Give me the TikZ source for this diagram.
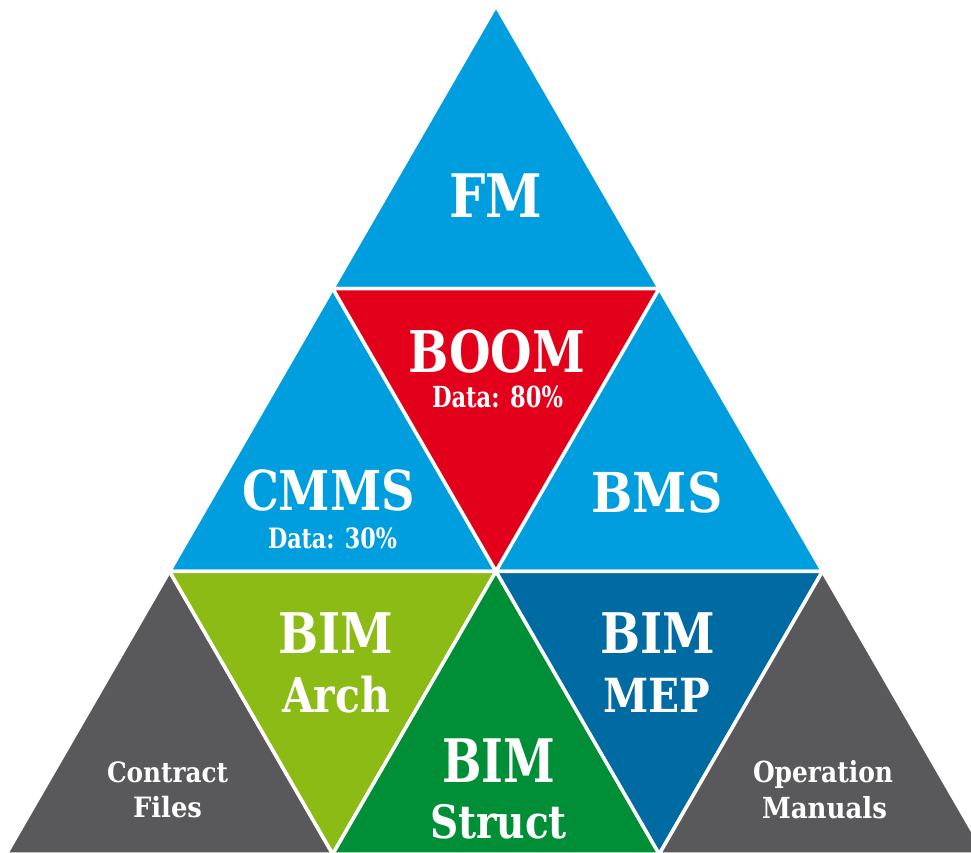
\documentclass[tikz,border=0pt]{standalone}
\usepackage{fontspec}
\usepackage{graphicx}
\setmainfont{DejaVu Serif}
\definecolor{skyblue}{HTML}{009EDF}
\definecolor{boomred}{HTML}{E2001A}
\definecolor{archgreen}{HTML}{8CBB15}
\definecolor{structgreen}{HTML}{008F36}
\definecolor{mepblue}{HTML}{006AA3}
\definecolor{docgray}{HTML}{59595B}
% label set at a given size and stretched to a given width
\newcommand{\fitlabel}[3]{{\fontsize{#1}{#1}\selectfont\bfseries\resizebox{#2}{\height}{#3}}}
\tikzset{
  tri/.style={draw=white, line width=3.5pt, line join=round},
  lab/.style={text=white, inner sep=0pt, anchor=base}
}
\begin{document}
\begin{tikzpicture}[x=1pt, y=-1pt]
\useasboundingbox (0,0) rectangle (971,852);
\clip (0,0) rectangle (971,852);
% lattice points of the triangular grid
\coordinate (A0) at (496,5.7);
\coordinate (B1) at (332.75,288.5);
\coordinate (B2) at (659.25,288.5);
\coordinate (C1) at (169.5,571.3);
\coordinate (C2) at (496,571.3);
\coordinate (C3) at (822.5,571.3);
\coordinate (D1) at (6.25,854.1);
\coordinate (D2) at (332.75,854.1);
\coordinate (D3) at (659.25,854.1);
\coordinate (D4) at (985.75,854.1);
% top row
\filldraw[tri, fill=skyblue] (A0) -- (B1) -- (B2) -- cycle;
% middle row
\filldraw[tri, fill=skyblue] (B1) -- (C1) -- (C2) -- cycle;
\filldraw[tri, fill=boomred] (B1) -- (B2) -- (C2) -- cycle;
\filldraw[tri, fill=skyblue] (B2) -- (C2) -- (C3) -- cycle;
% bottom row
\filldraw[tri, fill=docgray] (C1) -- (D1) -- (D2) -- cycle;
\filldraw[tri, fill=archgreen] (C1) -- (C2) -- (D2) -- cycle;
\filldraw[tri, fill=structgreen] (C2) -- (D2) -- (D3) -- cycle;
\filldraw[tri, fill=mepblue] (C2) -- (C3) -- (D3) -- cycle;
\filldraw[tri, fill=docgray] (C3) -- (D3) -- (D4) -- cycle;
% labels
\node[lab] (fm) at (496,217) {\fitlabel{60}{93pt}{FM}};
\node[lab] (boom) at (496.5,372) {\fitlabel{57.5}{177pt}{BOOM}};
\node[lab] (boomdata) at (497.5,407) {\fitlabel{29}{131pt}{Data: 80\%}};
\node[lab] (cmms) at (328.5,510) {\fitlabel{55}{173pt}{CMMS}};
\node[lab] (cmmsdata) at (332.5,548) {\fitlabel{28}{129pt}{Data: 30\%}};
\node[lab] (bms) at (657,512) {\fitlabel{55}{131pt}{BMS}};
\node[lab] (archa) at (335.5,653) {\fitlabel{56}{115pt}{BIM}};
\node[lab] (archb) at (336,712) {\fitlabel{48}{108pt}{Arch}};
\node[lab] (structa) at (498.5,782) {\fitlabel{60}{113pt}{BIM}};
\node[lab] (structb) at (498.5,838) {\fitlabel{46}{137pt}{Struct}};
\node[lab] (mepa) at (657.5,653) {\fitlabel{56}{115pt}{BIM}};
\node[lab] (mepb) at (656.5,712) {\fitlabel{47}{107pt}{MEP}};
\node[lab] (contracta) at (167.5,782) {\fitlabel{28}{121pt}{Contract}};
\node[lab] (contractb) at (167.5,817) {\fitlabel{28}{69pt}{Files}};
\node[lab] (opera) at (823,782) {\fitlabel{29}{140pt}{Operation}};
\node[lab] (operb) at (824.5,818) {\fitlabel{29}{125pt}{Manuals}};
\end{tikzpicture}
\end{document}
